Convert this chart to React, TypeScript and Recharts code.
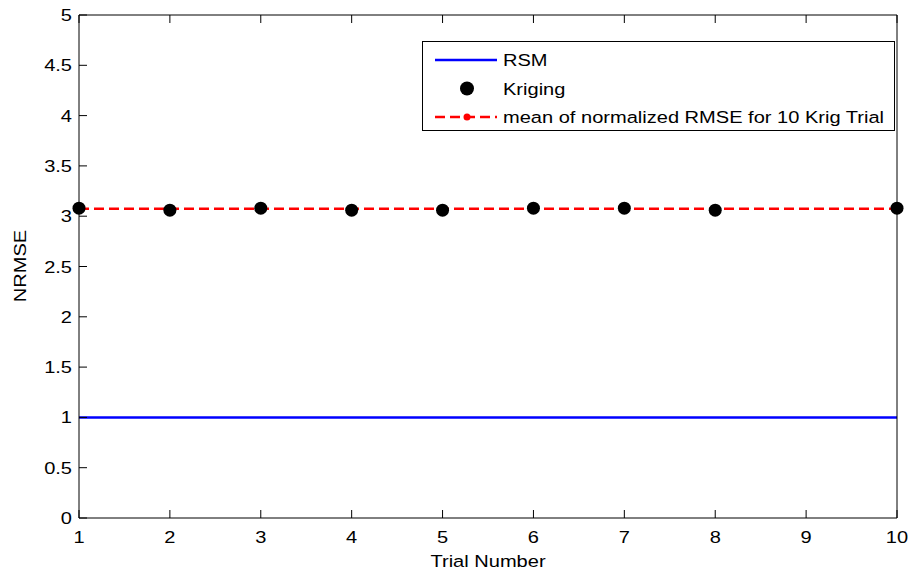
import { ComposedChart, Line, XAxis, YAxis, Legend } from 'recharts'

const trials = [1, 2, 3, 4, 5, 6, 7, 8, 9, 10]
const rsmNrmse = [1, 1, 1, 1, 1, 1, 1, 1, 1, 1]
const krigingNrmse = [3.08, 3.06, 3.08, 3.06, 3.06, 3.08, 3.08, 3.06, null, 3.08]
const meanNrmse = [3.075, 3.075, 3.075, 3.075, 3.075, 3.075, 3.075, 3.075, 3.075, 3.075]
const yTicks = [0, 0.5, 1, 1.5, 2, 2.5, 3, 3.5, 4, 4.5, 5]

const data = trials.map((t, i) => ({
  trial: t,
  rsm: rsmNrmse[i],
  kriging: krigingNrmse[i],
  mean: meanNrmse[i],
}))

const FONT = '"Liberation Sans", Arial, sans-serif'
const FS = 17
const SX = 1.18 // the reference text is a bit wider than Arial
const TICK = 8

// text stretched horizontally around its anchor point
function Txt({ x, y, anchor = 'start', children, rotate = false }: any) {
  const tf = rotate
    ? `translate(${x},${y}) rotate(-90) scale(${SX},1)`
    : `translate(${x},${y}) scale(${SX},1)`
  return (
    <g transform={tf}>
      <text x={0} y={0} textAnchor={anchor} fontSize={FS} fontFamily={FONT} fill="#000">
        {children}
      </text>
    </g>
  )
}

function BottomTick({ x, y, payload }: any) {
  return (
    <g>
      <line x1={x} y1={y} x2={x} y2={y - TICK} stroke="#000" strokeWidth={1} />
      <Txt x={x} y={y + 25} anchor="middle">{payload.value}</Txt>
    </g>
  )
}

function TopTick({ x, y }: any) {
  return <line x1={x} y1={y} x2={x} y2={y + TICK} stroke="#000" strokeWidth={1} />
}

function LeftTick({ x, y, payload }: any) {
  return (
    <g>
      <line x1={x} y1={y} x2={x + TICK} y2={y} stroke="#000" strokeWidth={1} />
      <Txt x={x - 7} y={y + 6} anchor="end">{payload.value}</Txt>
    </g>
  )
}

function RightTick({ x, y }: any) {
  return <line x1={x} y1={y} x2={x - TICK} y2={y} stroke="#000" strokeWidth={1} />
}

function LegendBox() {
  const rows = [
    { label: 'RSM', kind: 'rsm' },
    { label: 'Kriging', kind: 'kriging' },
    { label: 'mean of normalized RMSE for 10 Krig Trial', kind: 'mean' },
  ]
  return (
    <svg width={474} height={91} style={{ display: 'block' }}>
      <rect x={0.5} y={0.5} width={472} height={89} fill="#fff" stroke="#000" strokeWidth={1} />
      {rows.map((r, i) => {
        const cy = 19 + i * 28.5
        return (
          <g key={r.kind}>
            {r.kind === 'rsm' && <line x1={13} y1={cy} x2={75} y2={cy} stroke="#0000ff" strokeWidth={2.5} />}
            {r.kind === 'kriging' && <circle cx={45} cy={cy} r={7} fill="#000" />}
            {r.kind === 'mean' && (
              <g>
                <line x1={13} y1={cy} x2={75} y2={cy} stroke="#ff0000" strokeWidth={2.5} strokeDasharray="10 5" />
                <circle cx={45} cy={cy} r={3.5} fill="#ff0000" />
              </g>
            )}
            <Txt x={81} y={cy + 6}>{r.label}</Txt>
          </g>
        )
      })}
    </svg>
  )
}

export default function App() {
  return (
    <div style={{ width: 911, height: 572, background: '#fff' }}>
      <style>{`body{margin:0}`}</style>
      <ComposedChart width={911} height={572} data={data} margin={{ top: 14, right: 13, left: 0, bottom: 0 }}>
        <XAxis
          xAxisId="bottom"
          dataKey="trial"
          type="number"
          domain={[1, 10]}
          ticks={trials}
          height={54}
          tickSize={0}
          tickMargin={0}
          tickLine={false}
          axisLine={{ stroke: '#000', strokeWidth: 1 }}
          tick={<BottomTick />}
          interval={0}
          label={{
            content: () => <Txt x={488} y={567} anchor="middle">Trial Number</Txt>,
          }}
        />
        <XAxis
          xAxisId="top"
          orientation="top"
          dataKey="trial"
          type="number"
          domain={[1, 10]}
          ticks={trials}
          height={1}
          tickSize={0}
          tickMargin={0}
          tickLine={false}
          axisLine={{ stroke: '#000', strokeWidth: 1 }}
          tick={<TopTick />}
          interval={0}
        />
        <YAxis
          yAxisId="left"
          type="number"
          domain={[0, 5]}
          ticks={yTicks}
          width={79}
          tickSize={0}
          tickMargin={0}
          tickLine={false}
          axisLine={{ stroke: '#000', strokeWidth: 1 }}
          tick={<LeftTick />}
          interval={0}
          label={{
            content: () => <Txt x={26} y={266} anchor="middle" rotate>NRMSE</Txt>,
          }}
        />
        <YAxis
          yAxisId="right"
          orientation="right"
          type="number"
          domain={[0, 5]}
          ticks={yTicks}
          width={1}
          tickSize={0}
          tickMargin={0}
          tickLine={false}
          axisLine={{ stroke: '#000', strokeWidth: 1 }}
          tick={<RightTick />}
          interval={0}
        />
        <Legend
          layout="horizontal"
          verticalAlign="middle"
          align="center"
          content={() => <LegendBox />}
          wrapperStyle={{ position: 'absolute', left: 422, top: 41, width: 474, height: 91 }}
        />
        <Line
          xAxisId="bottom"
          yAxisId="left"
          dataKey="rsm"
          stroke="#0000ff"
          strokeWidth={2.5}
          dot={false}
          activeDot={false}
          isAnimationActive={false}
        />
        <Line
          xAxisId="bottom"
          yAxisId="left"
          dataKey="kriging"
          stroke="none"
          dot={{ r: 6.5, fill: '#000', stroke: 'none' }}
          activeDot={false}
          isAnimationActive={false}
        />
        <Line
          xAxisId="bottom"
          yAxisId="left"
          dataKey="mean"
          stroke="#ff0000"
          strokeWidth={2.5}
          strokeDasharray="10 5"
          dot={false}
          activeDot={false}
          isAnimationActive={false}
        />
      </ComposedChart>
    </div>
  )
}
